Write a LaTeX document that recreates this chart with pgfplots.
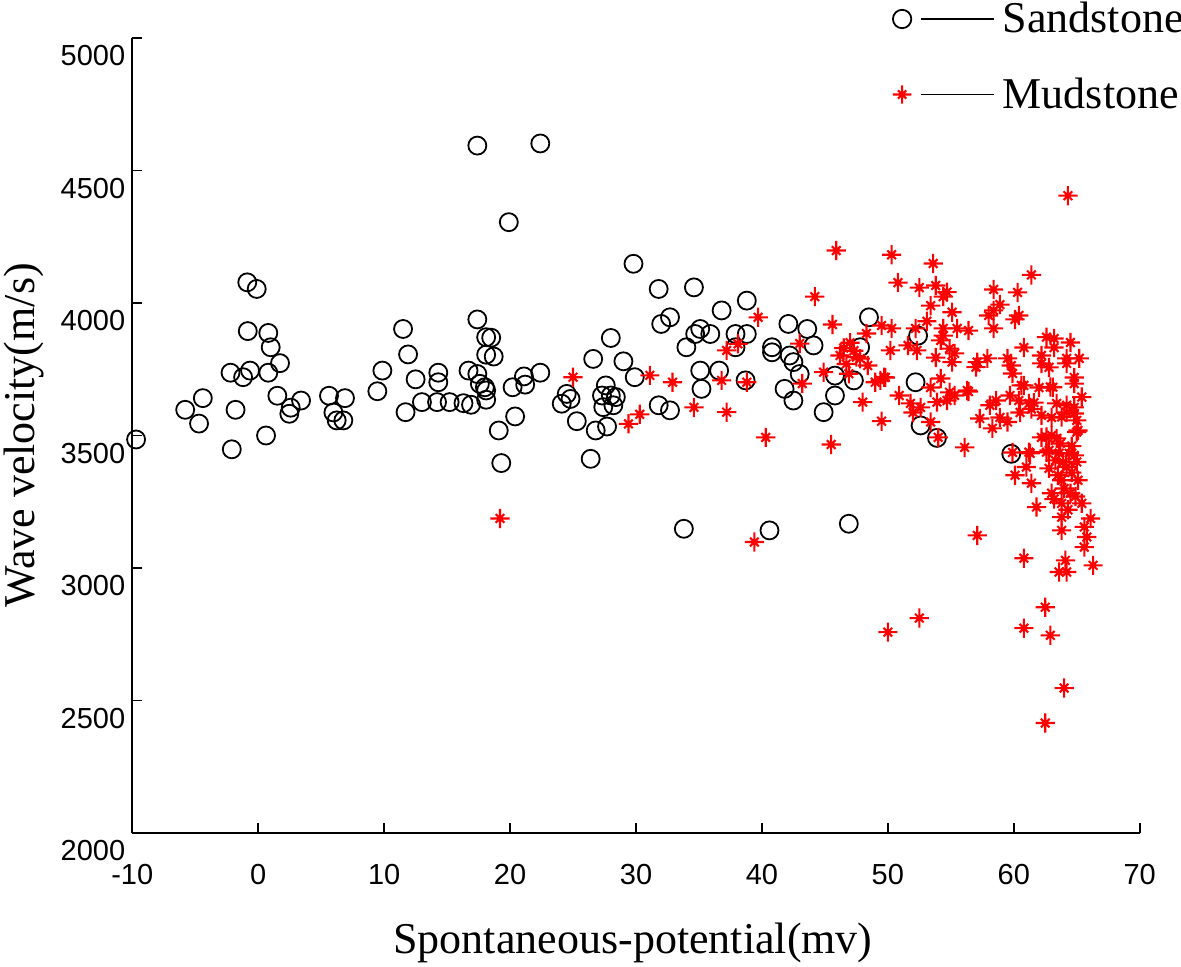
\documentclass[border=0pt]{standalone}
\usepackage{pgfplots}
\pgfplotsset{compat=1.18}
\usepackage{pgfplotstable}
\usepackage{fontspec}
\setmainfont{Liberation Serif}
\newfontfamily\tickfont{Liberation Sans}

\pgfdeclareplotmark{mstar}{%
  \pgfpathmoveto{\pgfqpoint{-\pgfplotmarksize}{0pt}}%
  \pgfpathlineto{\pgfqpoint{\pgfplotmarksize}{0pt}}%
  \pgfpathmoveto{\pgfqpoint{0pt}{-\pgfplotmarksize}}%
  \pgfpathlineto{\pgfqpoint{0pt}{\pgfplotmarksize}}%
  \pgfpathmoveto{\pgfqpoint{-0.45\pgfplotmarksize}{-0.45\pgfplotmarksize}}%
  \pgfpathlineto{\pgfqpoint{0.45\pgfplotmarksize}{0.45\pgfplotmarksize}}%
  \pgfpathmoveto{\pgfqpoint{-0.45\pgfplotmarksize}{0.45\pgfplotmarksize}}%
  \pgfpathlineto{\pgfqpoint{0.45\pgfplotmarksize}{-0.45\pgfplotmarksize}}%
  \pgfusepathqstroke}

\pgfplotstableread{
x y
-9.7 3485
-5.8 3597
-4.7 3545
-4.4 3641
-2.2 3737
-2.1 3448
-1.8 3597
-0.87 4078
-0.12 4053
-0.83 3894
-1.2 3720
-0.65 3745
0.80 3887
0.99 3833
1.73 3773
0.80 3737
0.62 3500
1.52 3650
2.58 3605
2.47 3582
3.40 3632
5.62 3650
5.97 3587
6.23 3557
6.76 3557
6.89 3641
9.46 3667
9.86 3745
11.5 3902
11.7 3588
11.9 3806
12.5 3712
13.0 3626
14.2 3626
14.3 3737
14.3 3701
15.2 3626
16.3 3622
16.9 3616
16.7 3745
17.4 3732
17.4 3938
17.6 3695
18.0 3682
18.1 3670
18.1 3635
18.1 3871
18.5 3869
18.1 3805
18.7 3798
19.1 3519
19.3 3396
17.4 4594
22.4 4602
19.9 4305
20.2 3682
20.4 3572
21.1 3723
21.2 3692
22.4 3737
29.8 4148
31.8 4053
34.6 4059
38.8 4009
36.8 3972
32.7 3946
32.0 3921
28.0 3868
35.1 3902
34.7 3883
35.9 3883
34.0 3833
37.9 3883
38.8 3883
37.9 3833
42.1 3921
43.6 3902
48.5 3946
40.8 3833
40.8 3814
42.2 3802
42.5 3777
43.0 3732
44.1 3840
47.8 3833
45.8 3726
47.3 3708
41.8 3676
42.5 3632
44.9 3588
45.8 3651
38.7 3708
35.1 3745
36.6 3745
35.2 3676
29.9 3720
29.0 3780
26.6 3789
24.1 3620
24.5 3657
24.8 3638
25.3 3554
26.8 3519
26.4 3412
27.7 3534
27.3 3651
28.0 3651
28.4 3645
27.4 3607
28.2 3614
27.6 3689
31.8 3614
32.7 3595
33.8 3148
40.6 3142
46.9 3167
52.4 3877
52.2 3701
52.6 3538
53.9 3491
59.8 3431
}\sandstone

\pgfplotstableread{
x y
19.2 3187
25.0 3720
29.4 3544
30.3 3580
31.1 3727
32.9 3701
34.6 3606
36.8 3708
37.2 3588
37.2 3821
38.1 3846
38.8 3701
39.7 3946
40.3 3493
39.4 3098
43.0 3847
44.2 4024
45.6 3919
44.9 3739
43.2 3696
48.0 3626
49.5 3554
45.5 3466
45.9 4198
46.2 3802
46.9 3733
47.5 3796
48.4 3764
48.3 3885
46.5 3830
46.7 3770
47.0 3850
47.3 3820
47.8 3790
49.0 3701
49.7 3720
50.3 4182
50.8 4077
49.5 3915
50.3 3904
50.2 3821
49.4 3708
49.8 3719
53.6 4149
61.4 4106
52.5 4058
53.8 4066
54.7 4041
54.4 4024
58.4 4051
60.3 4040
53.4 3990
58.9 3994
58.4 3972
58.0 3953
55.1 3965
60.4 3953
60.1 3938
53.1 3931
52.2 3904
54.4 3904
55.5 3904
56.4 3896
58.4 3904
54.4 3877
54.2 3859
51.6 3840
52.3 3821
54.9 3828
55.3 3810
53.8 3794
62.6 3871
63.2 3866
64.5 3851
63.2 3832
60.8 3832
62.2 3802
64.2 3791
65.2 3791
57.9 3791
57.1 3777
59.5 3791
55.1 3777
57.0 3758
59.8 3764
62.2 3772
62.8 3757
64.2 3772
59.9 3734
64.8 3719
54.2 3715
53.4 3681
60.6 3689
62.0 3681
62.9 3683
54.9 3663
56.4 3666
55.3 3651
50.9 3651
65.4 3645
59.7 3651
58.6 3632
60.4 3632
61.2 3621
61.6 3624
63.4 3621
64.2 3614
64.8 3606
58.1 3614
53.9 3626
54.7 3632
51.8 3621
52.6 3606
52.0 3587
58.9 3568
57.3 3564
59.5 3551
60.5 3587
62.2 3576
63.0 3568
64.2 3587
65.0 3557
53.4 3551
58.3 3527
62.2 3493
63.0 3500
65.0 3513
54.0 3493
56.1 3455
59.9 3436
61.3 3433
62.8 3444
63.6 3433
64.4 3433
56.3 3670
60.8 3689
63.1 3682
64.8 3696
61.4 3600
63.8 3570
64.8 3583
65.1 3519
62.6 3494
63.4 3489
61.2 3437
62.6 3437
64.8 3425
63.3 3406
61.0 3381
62.8 3376
64.2 3381
60.1 3350
61.4 3320
63.8 3331
65.1 3331
63.0 3282
64.5 3282
61.8 3230
63.8 3244
65.4 3244
63.8 3192
66.1 3187
65.6 3155
63.8 3142
65.8 3117
65.6 3079
57.1 3123
60.8 3037
64.1 3029
66.3 3010
63.6 2985
64.2 2985
62.5 2852
60.8 2773
62.9 2746
64.0 2547
62.5 2415
52.5 2811
50.0 2758
64.3 4405
63.5 3350
64.0 3300
64.6 3360
63.2 3260
64.9 3270
64.3 3220
63.9 3400
65.0 3400
64.6 3460
63.7 3470
}\mudstone

\begin{document}
\begin{tikzpicture}
\useasboundingbox (-66.15pt,-66.5pt) rectangle (524.35pt,416.5pt);
\begin{axis}[
  at={(0pt,0pt)}, anchor=south west,
  scale only axis, width=503.7pt, height=397.5pt,
  xmin=-10, xmax=70, ymin=2000, ymax=5000,
  axis x line*=bottom, axis y line*=left,
  axis line style={line width=1pt, -},
  tick align=inside, major tick length=5pt,
  tick style={line width=0.8pt, black},
  xtick={-10,0,10,20,30,40,50,60,70},
  xticklabels={-10,0,10,20,30,40,50,60,70},
  ytick={2000,2500,3000,3500,4000,4500,5000},
  yticklabels={2000,2500,3000,3500,4000,4500,5000},
  ticklabel style={font=\tickfont\fontsize{14.5}{17}\selectfont},
  yticklabel style={yshift=-9pt},
  xticklabel style={yshift=-12pt},
  xlabel={Spontaneous-potential(mv)},
  ylabel={Wave velocity(m/s)},
  label style={font=\fontsize{22}{26}\selectfont},
  xlabel style={at={(axis description cs:0.497,-0.138)}, anchor=center},
  ylabel style={at={(axis description cs:-0.108,0.5)}, anchor=center},
  clip=false,
  legend cell align=left,
  legend image code/.code={%
    \draw[#1, mark size=4.6pt] plot coordinates {(0pt,0pt)};
    \draw[black, line width=0.65pt] (9.5pt,0pt) -- (46pt,0pt);
  },
  legend style={at={(axis description cs:1.046,1.048)}, anchor=north east,
    draw=none, fill=none, inner sep=0pt, row sep=19pt,
    font=\fontsize{22}{26}\selectfont,
    nodes={inner sep=1pt},
    /tikz/every odd column/.append style={column sep=3pt}},
]
\addplot[only marks, mark=o, mark size=4.5pt, black, line width=0.9pt] table[x=x,y=y] {\sandstone};
\addlegendentry{Sandstone}
\addplot[only marks, mark=mstar, mark size=4.8pt, red, line width=1.05pt] table[x=x,y=y] {\mudstone};
\addlegendentry{Mudstone}
\end{axis}
\end{tikzpicture}
\end{document}
